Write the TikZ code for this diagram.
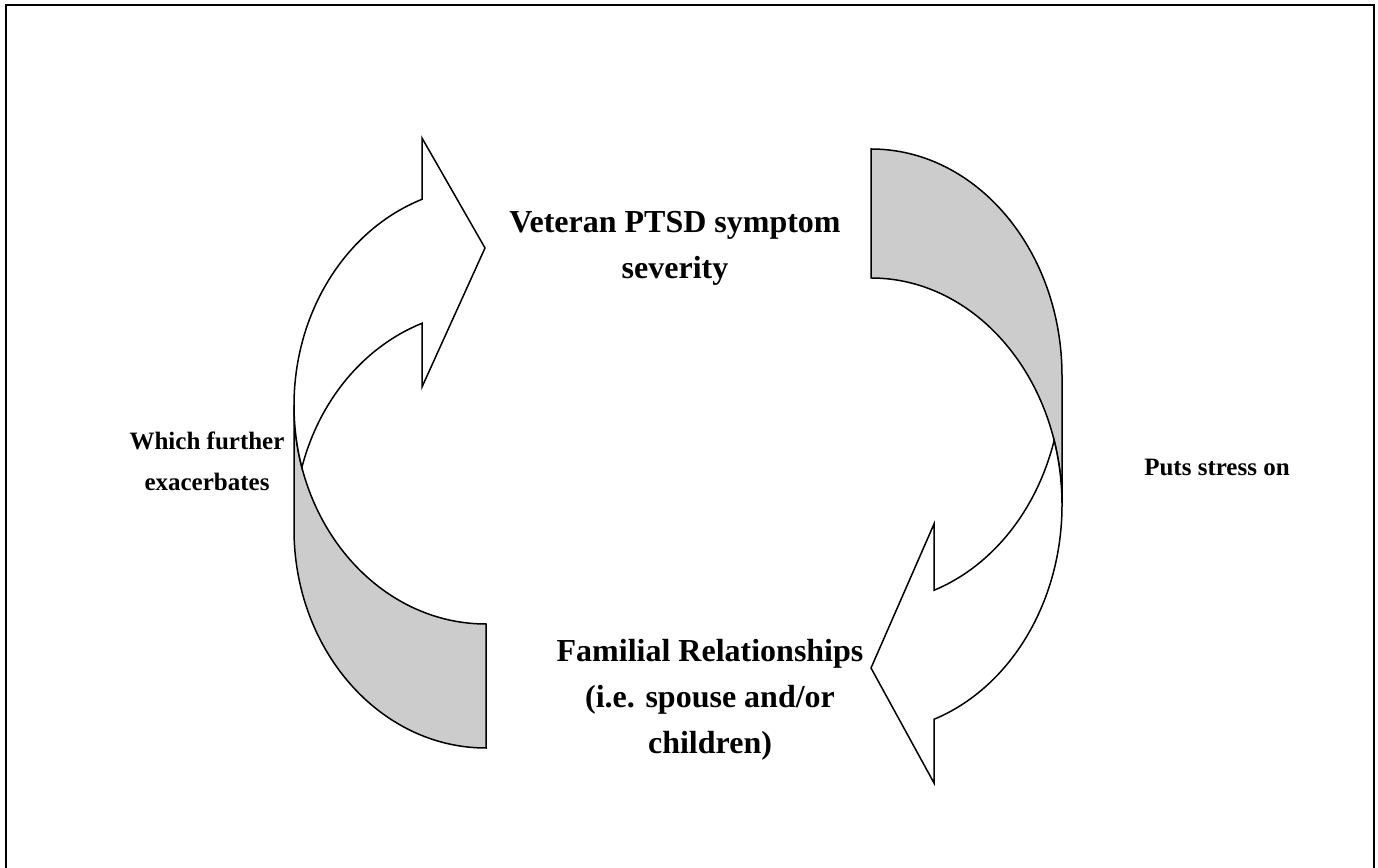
\documentclass[tikz,border=0pt]{standalone}
\usepackage{fontspec}
\setmainfont{Liberation Serif}
\definecolor{bandgray}{HTML}{CCCCCC}
\tikzset{
  outline/.style={draw=black, line width=1.5pt, line join=miter},
  lbl/.style={font=\bfseries\fontsize{32}{46}\selectfont, align=center, inner sep=0pt},
  sidelbl/.style={font=\bfseries\fontsize{25}{41}\selectfont, align=center, inner sep=0pt},
}
\begin{document}
\begin{tikzpicture}[x=1pt,y=1pt]
\useasboundingbox (0,0) rectangle (1378,867);
% frame (bottom edge lies outside the page)
\draw[line width=2.4pt] (6,-10) -- (6,862) -- (1374,862) -- (1374,-10);

% ---------- left curved arrow ----------
% back (shaded) band
\path[outline, fill=bandgray]
  (294,461.6) -- (294,337.6)
  arc[start angle=180, end angle=270, x radius=192, y radius=218.6]
  -- (486,243)
  arc[start angle=270, end angle=180, x radius=192, y radius=218.6]
  -- cycle;
% front with arrowhead
\path[outline, fill=white]
  (294,461.6)
  arc[start angle=180, end angle=109.47, x radius=192, y radius=218.6]
  -- (422,729) -- (485,619) -- (422,480) -- (422,543.7)
  arc[start angle=109.47, end angle=163.52, x radius=192, y radius=218.6]
  arc[start angle=196.48, end angle=180, x radius=192, y radius=218.6];

% ---------- right curved arrow ----------
\path[outline, fill=bandgray]
  (871,718)
  arc[start angle=90, end angle=0, x radius=191, y radius=227]
  -- (1062,362)
  arc[start angle=0, end angle=90, x radius=191, y radius=227]
  -- cycle;
\path[outline, fill=white]
  (1062,362)
  arc[start angle=0, end angle=-70.74, x radius=191, y radius=227]
  -- (934,84) -- (871,199) -- (934,343) -- (934,276.7)
  arc[start angle=-70.74, end angle=-16.51, x radius=191, y radius=227]
  arc[start angle=16.51, end angle=0, x radius=191, y radius=227];

% ---------- labels ----------
\node[lbl] (sev) at (675,619) {Veteran PTSD symptom\\severity};
\node[lbl] (fam) at (710,167) {Familial Relationships\\(i.e. spouse and/or\\children)};
\node[sidelbl] (exa) at (207,406) {Which further\\exacerbates};
\node[sidelbl] (str) at (1217,400) {Puts stress on};
\end{tikzpicture}
\end{document}
